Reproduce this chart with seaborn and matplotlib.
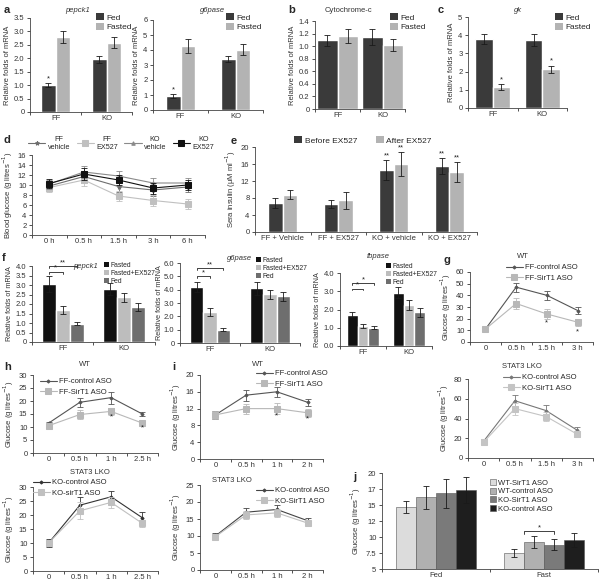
import numpy as np
import pandas as pd
import matplotlib
matplotlib.use("Agg")
import matplotlib.pyplot as plt
from matplotlib.patches import Patch
import seaborn as sns

sns.set_style("ticks")
plt.rcParams['font.family'] = ['Liberation Sans', 'DejaVu Sans']

# =========================
# Data
# =========================
genotypes = ["FF", "KO"]
fed_fasted = ["Fed", "Fasted"]

# a: pepck1 / g6pase
pepck1_fed, pepck1_fed_err = [1.00, 1.97], [0.08, 0.13]
pepck1_fasted, pepck1_fasted_err = [2.78, 2.58], [0.22, 0.20]
g6pase_fed, g6pase_fed_err = [0.95, 3.42], [0.12, 0.20]
g6pase_fasted, g6pase_fasted_err = [4.28, 4.02], [0.45, 0.38]
# b: cytochrome-c
cytc_fed, cytc_fed_err = [1.09, 1.15], [0.09, 0.13]
cytc_fasted, cytc_fasted_err = [1.16, 1.02], [0.11, 0.09]
# c: gk
gk_fed, gk_fed_err = [3.78, 3.73], [0.28, 0.32]
gk_fasted, gk_fasted_err = [1.15, 2.12], [0.15, 0.20]

# d: blood glucose time course
d_times = ["0 h", "0.5 h", "1.5 h", "3 h", "6 h"]
d_ff_vehicle = [9.8, 11.7, 9.7, 9.0, 9.6]
d_ff_ex527 = [9.5, 11.0, 7.8, 6.9, 6.2]
d_ko_vehicle = [10.2, 12.6, 11.8, 10.4, 10.4]
d_ko_ex527 = [10.3, 12.2, 11.0, 9.4, 10.0]
d_err = [0.9, 1.2, 1.0, 1.1, 1.0]

# e: sera insulin
e_groups = ["FF + Vehicle", "FF + EX527", "KO + vehicle", "KO + EX527"]
e_levels = ["Before EX527", "After EX527"]
e_before, e_before_err = [6.9, 6.6, 14.6, 15.5], [1.2, 1.0, 2.3, 1.8]
e_after, e_after_err = [8.8, 7.5, 16.0, 14.1], [1.0, 2.0, 2.8, 2.3]

# f: mRNA with EX527
f_levels = ["Fasted", "Fasted+EX527", "Fed"]
f_pepck1 = [[3.05, 2.78], [1.70, 2.35], [0.97, 1.85]]
f_pepck1_err = [[0.40, 0.30], [0.20, 0.25], [0.10, 0.20]]
f_g6pase = [[4.20, 4.10], [2.30, 3.65], [1.00, 3.50]]
f_g6pase_err = [[0.40, 0.50], [0.30, 0.35], [0.12, 0.35]]
f_fbpase = [[1.72, 2.93], [1.10, 2.25], [1.00, 1.85]]
f_fbpase_err = [[0.15, 0.30], [0.12, 0.28], [0.08, 0.25]]

# g, h, i: glucose tolerance
g_times = ["0", "0.5 h", "1.5 h", "3 h"]
g_wt_control, g_wt_control_err = [11, 47, 40, 27], [1.5, 4, 4, 3]
g_wt_sirt1, g_wt_sirt1_err = [11, 33, 24, 17], [1.5, 5, 4, 3]
g_ko_control, g_ko_control_err = [17, 58, 48, 28], [2, 6, 6, 3]
g_ko_sirt1, g_ko_sirt1_err = [16, 50, 42, 24], [2, 6, 5, 3]

h_times = ["0", "0.5 h", "1 h", "2.5 h"]
h_wt_control, h_wt_control_err = [11.5, 19.5, 21.3, 15.0], [0.6, 1.8, 2.3, 0.8]
h_wt_sirt1, h_wt_sirt1_err = [10.5, 14.8, 16.0, 11.5], [0.8, 1.8, 1.2, 0.9]
h_ko_control, h_ko_control_err = [10.0, 23.5, 26.5, 19.0], [1.3, 2.8, 2.2, 2.0]
h_ko_sirt1, h_ko_sirt1_err = [10.0, 21.5, 24.5, 17.0], [1.0, 3.0, 2.0, 1.2]

i_times = ["0", "0.5 h", "1 h", "2 h"]
i_wt_control, i_wt_control_err = [10.5, 15.2, 16.0, 13.5], [1.0, 1.3, 1.2, 0.8]
i_wt_sirt1, i_wt_sirt1_err = [10.5, 12.0, 12.0, 11.0], [0.9, 1.2, 1.3, 1.0]
i_ko_control, i_ko_control_err = [10.0, 17.0, 17.8, 14.5], [0.8, 1.2, 1.3, 0.7]
i_ko_sirt1, i_ko_sirt1_err = [9.8, 16.2, 16.8, 13.8], [0.8, 1.2, 1.2, 0.7]

# j: fed / fast glucose
j_groups = ["Fed", "Fast"]
j_levels = ["WT-SirT1 ASO", "WT-control ASO", "KO-SirT1 ASO", "KO-control ASO"]
j_values = [[14.7, 7.5], [16.2, 9.2], [16.8, 8.8], [17.3, 9.6]]
j_err = [[1.0, 0.6], [1.8, 0.9], [2.2, 0.9], [2.0, 1.1]]
j_ticks = [5, 7.5, 10, 12.5, 15, 17.5, 20]
j_ticklabels = ["5", "7.5", "10", "12", "15", "17", "20"]

# =========================
# Helpers
# =========================
W, H = 600, 586
fig = plt.figure(figsize=(6, 5.86), dpi=100)
FS = 5.5
DARK, LIGHT = "#3a3a3a", "#b3b3b3"
RNA = "Relative folds of mRNA"
GLU = "Glucose (g litres$^{-1}$)"


def add_ax(l, t, r, b):
    return fig.add_axes([l / W, 1 - b / H, (r - l) / W, (b - t) / H])


def P(x, y):
    return (x / W, 1 - y / H)


def style(ax, ylim, yticks, yticklabels, ylabel, labelpad=2, ylfs=FS):
    ax.set_ylim(*ylim)
    ax.set_yticks(yticks)
    ax.set_yticklabels(yticklabels)
    ax.set_ylabel(ylabel, fontsize=ylfs, labelpad=labelpad, color="#333")
    ax.set_xlabel("")
    sns.despine(ax=ax)
    ax.tick_params(axis="y", labelsize=FS, width=0.6, length=2.5, pad=1.5, colors="#333")
    ax.tick_params(axis="x", which="both", labelsize=FS, width=0.6, pad=2, colors="#333")
    for s in ("left", "bottom"):
        ax.spines[s].set_linewidth(0.6)
        ax.spines[s].set_color("#444")


def bars(ax, cats, levels, means, errs, colors, width):
    df = pd.DataFrame({
        "group": [c for _ in levels for c in cats],
        "cond": [l for l in levels for _ in cats],
        "value": [v for m in means for v in m],
    })
    sns.barplot(data=df, x="group", y="value", hue="cond", order=cats,
                hue_order=levels, palette=colors, width=width, gap=0,
                errorbar=None, legend=False, saturation=1, ax=ax)
    for cont, e in zip(list(ax.containers), errs):
        xs = [p.get_x() + p.get_width() / 2 for p in cont]
        ys = [p.get_height() for p in cont]
        ax.errorbar(xs, ys, yerr=e, fmt="none", ecolor="#1a1a1a",
                    elinewidth=0.6, capsize=2, capthick=0.6)
    n = len(cats)
    ax.set_xlim(-0.5, n - 0.5)
    ax.set_xticks(np.arange(n))
    ax.set_xticks(np.arange(-0.5, n), minor=True)
    ax.tick_params(axis="x", which="major", length=0)
    ax.tick_params(axis="x", which="minor", length=2.5, width=0.6)


def lines(ax, xcats, series):
    x = np.arange(len(xcats))
    for label, m, e, color, marker, ms in series:
        sns.lineplot(x=x, y=m, color=color, marker=marker, markersize=ms,
                     markeredgecolor=color, linewidth=0.8, label=label, ax=ax)
        ax.errorbar(x, m, yerr=e, fmt="none", ecolor=color, elinewidth=0.6,
                    capsize=2, capthick=0.6)
    n = len(xcats)
    ax.set_xlim(-0.5, n - 0.5)
    ax.set_xticks(x)
    ax.set_xticklabels(xcats)
    ax.set_xticks(np.arange(-0.5, n), minor=True)
    ax.tick_params(axis="x", which="major", length=0)
    ax.tick_params(axis="x", which="minor", length=2.5, width=0.6)


def bar_legend(ax, levels, colors, xy, fs=6, ncol=1, colsp=1.0, hl=1.0):
    handles = [Patch(facecolor=c, edgecolor="none", label=l) for l, c in zip(levels, colors)]
    ax.legend(handles=handles, loc="upper left", bbox_to_anchor=P(*xy),
              bbox_transform=fig.transFigure, frameon=False, fontsize=fs,
              handlelength=hl, handleheight=hl, handletextpad=0.3,
              labelspacing=0.15, borderpad=0, borderaxespad=0, ncol=ncol,
              columnspacing=colsp)


def line_legend(ax, xy, fs=FS, ncol=1):
    leg = ax.legend(loc="upper left", bbox_to_anchor=P(*xy), bbox_transform=fig.transFigure,
                    frameon=False, fontsize=fs, handlelength=2.2, handletextpad=0.3,
                    labelspacing=0.4, borderpad=0, borderaxespad=0, ncol=ncol,
                    columnspacing=1.2)
    return leg


def star(ax, x, y, s="*"):
    ax.text(x, y, s, ha="center", va="bottom", fontsize=FS, color="#222")


def bracket(ax, x0, x1, y, h, s):
    ax.plot([x0, x0, x1, x1], [y - h, y, y, y - h], color="#222", lw=0.6, clip_on=False)
    ax.text((x0 + x1) / 2, y, s, ha="center", va="bottom", fontsize=FS, color="#222")


def letter(x, y, s):
    fig.text(x / W, 1 - y / H, s, fontsize=8, fontweight="bold", va="center", ha="left")


def ftitle(x, y, s, italic=False):
    fig.text(x / W, 1 - y / H, s, fontsize=FS, va="center", ha="center",
             style="italic" if italic else "normal", color="#333")


# =========================
# a, b, c
# =========================
ax = add_ax(30, 18, 132, 112)
bars(ax, genotypes, fed_fasted, [pepck1_fed, pepck1_fasted],
     [pepck1_fed_err, pepck1_fasted_err], [DARK, LIGHT], 0.56)
style(ax, (0, 3.5), np.arange(0, 3.6, 0.5),
      ["0", "0.5", "1.0", "1.5", "2.0", "2.5", "3.0", "3.5"], RNA)
bar_legend(ax, fed_fasted, [DARK, LIGHT], (96, 13))
star(ax, -0.14, 1.1)
ftitle(78, 10, "pepck1", True)

ax = add_ax(153, 20, 263, 110)
bars(ax, genotypes, fed_fasted, [g6pase_fed, g6pase_fasted],
     [g6pase_fed_err, g6pase_fasted_err], [DARK, LIGHT], 0.52)
style(ax, (0, 6), np.arange(0, 7), [str(v) for v in range(7)], RNA)
bar_legend(ax, fed_fasted, [DARK, LIGHT], (226, 13))
star(ax, -0.13, 1.08)
ftitle(213, 10, "g6pase", True)

ax = add_ax(315, 21, 405, 109)
bars(ax, genotypes, fed_fasted, [cytc_fed, cytc_fasted],
     [cytc_fed_err, cytc_fasted_err], [DARK, LIGHT], 0.9)
style(ax, (0, 1.4), np.arange(0, 1.41, 0.2),
      ["0", "0.2", "0.4", "0.6", "0.8", "1.0", "1.2", "1.4"], RNA)
bar_legend(ax, fed_fasted, [DARK, LIGHT], (390, 13))
ftitle(348, 11, "Cytochrome-c")

ax = add_ax(468, 17, 567, 108)
bars(ax, genotypes, fed_fasted, [gk_fed, gk_fasted],
     [gk_fed_err, gk_fasted_err], [DARK, LIGHT], 0.7)
style(ax, (0, 5), np.arange(0, 6), [str(v) for v in range(6)], RNA)
bar_legend(ax, fed_fasted, [DARK, LIGHT], (555, 13))
star(ax, 0.175, 1.35)
star(ax, 1.175, 2.37)
ftitle(518, 11, "gk", True)

# =========================
# d
# =========================
ax = add_ax(32, 155, 205, 235)
lines(ax, d_times, [
    ("FF\nvehicle", d_ff_vehicle, d_err, "#6e6e6e", "*", 3),
    ("FF\nEX527", d_ff_ex527, d_err, "#c0c0c0", "s", 4.5),
    ("KO\nvehicle", d_ko_vehicle, d_err, "#8a8a8a", "^", 2.5),
    ("KO\nEX527", d_ko_ex527, d_err, "#111111", "s", 4.5),
])
style(ax, (0, 16), np.arange(0, 17, 2), [str(v) for v in range(0, 17, 2)],
      "Blood glucose (g litres$^{-1}$)")
leg = ax.legend(loc="lower left", bbox_to_anchor=P(28, 151), bbox_transform=fig.transFigure,
                frameon=False, fontsize=5.2, handlelength=2.4, handletextpad=0.3,
                borderpad=0, borderaxespad=0, ncol=4, columnspacing=0.9)
for t in leg.get_texts():
    t.set_multialignment("center")

# =========================
# e
# =========================
ax = add_ax(255, 147, 477, 232)
bars(ax, e_groups, e_levels, [e_before, e_after],
     [e_before_err, e_after_err], [DARK, LIGHT], 0.53)
style(ax, (0, 20), np.arange(0, 21, 4), [str(v) for v in range(0, 21, 4)],
      "Sera insulin (\u03bcM ml$^{-1}$)")
bar_legend(ax, e_levels, [DARK, LIGHT], (294, 136), ncol=2, colsp=2.2)
for i, (b, be, a, ae) in enumerate(zip(e_before, e_before_err, e_after, e_after_err)):
    if i >= 2:
        star(ax, i - 0.13, b + be + 0.2, "**")
        star(ax, i + 0.13, a + ae + 0.2, "**")

# =========================
# f
# =========================
F_COLORS = ["#111111", "#bdbdbd", "#6e6e6e"]

ax_f1 = add_ax(32, 266, 155, 342)
bars(ax_f1, genotypes, f_levels, f_pepck1, f_pepck1_err, F_COLORS, 0.69)
style(ax_f1, (0, 4), np.arange(0, 4.1, 0.5),
      ["0", "0.5", "1.0", "1.5", "2.0", "2.5", "3.0", "3.5", "4.0"], RNA, ylfs=5.2)
bar_legend(ax_f1, f_levels, F_COLORS, (104, 262), fs=4.9, hl=0.7)
bracket(ax_f1, -0.23, 0.23, 4.0, 0.1, "**")
bracket(ax_f1, -0.23, 0.0, 3.7, 0.1, "*")
ftitle(86, 266, "pepck1", True)

ax_f2 = add_ax(180, 263, 300, 343)
bars(ax_f2, genotypes, f_levels, f_g6pase, f_g6pase_err, F_COLORS, 0.66)
style(ax_f2, (0, 6), np.arange(0, 6.1, 1.0),
      ["0", "1.0", "2.0", "3.0", "4.0", "5.0", "6.0"], RNA, labelpad=1, ylfs=5.2)
bar_legend(ax_f2, f_levels, F_COLORS, (256, 257), fs=4.9, hl=0.7)
bracket(ax_f2, -0.22, 0.22, 5.6, 0.15, "**")
bracket(ax_f2, -0.22, 0.0, 5.0, 0.15, "*")
ftitle(240, 259, "g6pase", True)

ax_f3 = add_ax(340, 273, 432, 346)
bars(ax_f3, genotypes, f_levels, f_fbpase, f_fbpase_err, F_COLORS, 0.69)
style(ax_f3, (0, 4), np.arange(0, 4.1, 1.0),
      ["0.0", "1.0", "2.0", "3.0", "4.0"], RNA, ylfs=5.2)
bar_legend(ax_f3, f_levels, F_COLORS, (386, 263), fs=4.9, hl=0.7)
bracket(ax_f3, -0.23, 0.23, 3.45, 0.1, "*")
bracket(ax_f3, -0.23, 0.0, 3.15, 0.1, "*")
ftitle(378, 257, "fbpase", True)

# =========================
# g
# =========================
CTRL, SIRT = "#555555", "#b8b8b8"

ax = add_ax(470, 272, 593, 342)
lines(ax, g_times, [
    ("FF-control ASO", g_wt_control, g_wt_control_err, CTRL, "D", 1.6),
    ("FF-SirT1 ASO", g_wt_sirt1, g_wt_sirt1_err, SIRT, "s", 4),
])
style(ax, (0, 60), np.arange(0, 61, 10), [str(v) for v in range(0, 61, 10)], GLU)
line_legend(ax, (506, 264))
star(ax, 2, 13)
star(ax, 3, 6)
ftitle(523, 257, "WT")

ax = add_ax(468, 379, 593, 458)
lines(ax, g_times, [
    ("KO-control ASO", g_ko_control, g_ko_control_err, "#777777", "D", 1.6),
    ("KO-SirT1 ASO", g_ko_sirt1, g_ko_sirt1_err, "#c4c4c4", "s", 4),
])
style(ax, (0, 80), np.arange(0, 81, 20), [str(v) for v in range(0, 81, 20)], GLU)
line_legend(ax, (503, 374))
ftitle(522, 367, "STAT3 LKO")

# =========================
# h
# =========================
ax = add_ax(33, 375, 158, 453)
lines(ax, h_times, [
    ("FF-control ASO", h_wt_control, h_wt_control_err, CTRL, "D", 1.6),
    ("FF-SirT1 ASO", h_wt_sirt1, h_wt_sirt1_err, SIRT, "s", 4),
])
style(ax, (0, 30), np.arange(0, 31, 5), [str(v) for v in range(0, 31, 5)], GLU)
line_legend(ax, (40, 378))
star(ax, 2, 12.5)
star(ax, 3, 8.5)
ftitle(85, 365, "WT")

ax = add_ax(33, 487, 158, 571)
lines(ax, h_times, [
    ("KO-control ASO", h_ko_control, h_ko_control_err, "#333333", "D", 1.6),
    ("KO-sirT1 ASO", h_ko_sirt1, h_ko_sirt1_err, "#c0c0c0", "s", 4),
])
style(ax, (0, 30), np.arange(0, 31, 5), [str(v) for v in range(0, 31, 5)], GLU)
line_legend(ax, (33, 479))
ftitle(90, 473, "STAT3 LKO")

# =========================
# i
# =========================
ax = add_ax(200, 375, 323, 459)
lines(ax, i_times, [
    ("FF-control ASO", i_wt_control, i_wt_control_err, CTRL, "D", 1.6),
    ("FF-SirT1 ASO", i_wt_sirt1, i_wt_sirt1_err, SIRT, "s", 4),
])
style(ax, (0, 20), np.arange(0, 21, 4), [str(v) for v in range(0, 21, 4)], GLU)
line_legend(ax, (256, 370))
star(ax, 2, 9.4)
star(ax, 3, 8.6)
ftitle(258, 365, "WT")

ax = add_ax(200, 485, 323, 570)
lines(ax, i_times, [
    ("KO-control ASO", i_ko_control, i_ko_control_err, "#444444", "D", 1.6),
    ("KO-SirT1 ASO", i_ko_sirt1, i_ko_sirt1_err, "#c0c0c0", "s", 4),
])
style(ax, (0, 25), np.arange(0, 26, 5), [str(v) for v in range(0, 26, 5)], GLU)
line_legend(ax, (256, 487))
ftitle(232, 481, "STAT3 LKO")

# =========================
# j
# =========================
J_COLORS = ["#dcdcdc", "#b0b0b0", "#7a7a7a", "#1e1e1e"]
ax = add_ax(382, 473, 598, 569)
bars(ax, j_groups, j_levels, j_values, j_err, J_COLORS, 0.74)
for p in ax.patches:
    p.set_edgecolor("#555555")
    p.set_linewidth(0.4)
style(ax, (5, 20), j_ticks, j_ticklabels, GLU)
bar_legend(ax, j_levels, J_COLORS, (490, 479), fs=FS, hl=0.8)
for h_ in ax.get_legend().legend_handles:
    h_.set_edgecolor("#555555")
    h_.set_linewidth(0.4)
bracket(ax, 0.815, 1.093, 10.9, 0.4, "*")

# panel letters
for x, y, s in [(4, 10, "a"), (288, 10, "b"), (438, 10, "c"), (4, 140, "d"),
                (231, 141, "e"), (2, 258, "f"), (444, 260, "g"), (4, 367, "h"),
                (172, 367, "i"), (353, 477, "j")]:
    letter(x, y, s)

fig.savefig("out.png", dpi=100)
